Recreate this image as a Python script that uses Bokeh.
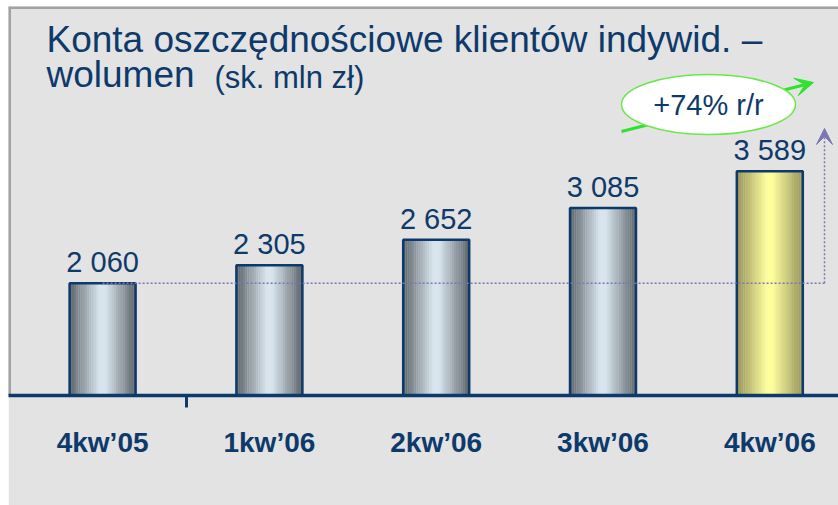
import numpy as np
from bokeh.plotting import figure
from bokeh.models import Range1d, FixedTicker, Arrow, VeeHead, ColumnDataSource
from bokeh.core.properties import value
from bokeh.embed import file_html
from bokeh.resources import INLINE

# ---- data ----
categories = ["4kw\u201905", "1kw\u201906", "2kw\u201906", "3kw\u201906", "4kw\u201906"]
volumes = [2060, 2305, 2652, 3085, 3589]
title_line1 = "Konta oszcz\u0119dno\u015bciowe klient\u00f3w indywid. \u2013"
title_line2 = "wolumen"
unit_label = "(sk. mln z\u0142)"

# ---- layout / style ----
W, H = 830, 499
FRAME_H = 389
PX_X = 166.8      # px per category step
PX_Y = 0.0732     # px per value unit
X_OFF = 94.1      # px from frame left to first category centre
Y_BASE = 525      # value at the baseline

NAVY = "#0d3a6b"
PURPLE = "#7b77b0"
GREEN = "#2fe22f"
FONT = value("Liberation Sans")

x_start = -X_OFF / PX_X
x_end = x_start + W / PX_X
y_start = Y_BASE
y_end = Y_BASE + FRAME_H / PX_Y


def dx(fx):
    return x_start + fx / PX_X


def dy(fy):
    return y_end - fy / PX_Y


idx = np.arange(len(categories))
BW = 66 / PX_X

p = figure(width=W, height=H, output_backend="svg", toolbar_location=None,
           x_range=Range1d(x_start, x_end), y_range=Range1d(y_start, y_end),
           y_axis_location=None, x_axis_location="below",
           min_border_left=0, min_border_right=0, min_border_top=0,
           min_border_bottom=H - FRAME_H, margin=(6, 0, 0, 8))
p.background_fill_color = "#e3e3e3"
p.border_fill_color = "#e3e3e3"
p.outline_line_color = None
p.grid.visible = False

# borders (left / top)
p.segment(x0=[x_start, x_start], y0=[y_start, y_end], x1=[x_start, x_end], y1=[y_end, y_end],
          line_color="#a2a2a2", line_width=5)

# green trend arrow (behind ellipse)
green_arrow = Arrow(x_start=dx(613), y_start=dy(125), x_end=dx(805), y_end=dy(76),
                    line_color=GREEN, line_width=3,
                    end=VeeHead(size=18, fill_color=GREEN, line_color=GREEN), level="underlay")
p.add_layout(green_arrow)

# gradient bars built from strips
N = 30
t = (np.arange(N) + 0.5) / N
prof = np.clip((1 - np.abs(2 * t - 1)) * 1.1, 0, 1)
steel_edge, steel_mid = np.array([92, 100, 105]), np.array([216, 229, 238])
gold_edge, gold_mid = np.array([150, 148, 90]), np.array([254, 254, 156])
hl = len(volumes) - 1
xs, tops, cols = [], [], []
for i, v in enumerate(volumes):
    e, m = (gold_edge, gold_mid) if i == hl else (steel_edge, steel_mid)
    for k in range(N):
        c = (e + (m - e) * prof[k]).astype(int)
        xs.append(idx[i] - BW / 2 + (k + 0.5) * BW / N)
        tops.append(v)
        cols.append("#%02x%02x%02x" % tuple(c))
strip_src = ColumnDataSource(dict(x=xs, top=tops, color=cols))
p.vbar(x="x", top="top", bottom=0, width=BW / N * 1.08, source=strip_src,
       fill_color="color", line_color=None)
p.vbar(x=idx, top=volumes, bottom=0, width=BW, fill_color=None,
       line_color=NAVY, line_width=2.5)

# dotted reference line + arrow
p.line(x=[idx[0], dx(816)], y=[volumes[0], volumes[0]], line_color=PURPLE,
       line_dash="2 2", line_width=1.5)
p.add_layout(Arrow(x_start=dx(816), y_start=volumes[0], x_end=dx(816), y_end=dy(122),
                   line_color=PURPLE, line_dash="2 2", line_width=1.5,
                   end=VeeHead(size=16, fill_color=PURPLE, line_color=PURPLE)))

# value labels
labels = [f"{v:,}".replace(",", " ") for v in volumes]
p.text(x=idx, y=[v + 21 / PX_Y for v in volumes], text=labels, text_align="center",
       text_baseline="middle", text_font=FONT, text_font_size="29px", text_color=NAVY)

# growth ellipse
growth = round((volumes[-1] / volumes[0] - 1) * 100)
p.ellipse(x=[dx(700)], y=[dy(98)], width=174, height=60, width_units="screen",
          height_units="screen", fill_color="white", line_color="#6ae84a", line_width=1.5)
p.text(x=[dx(700)], y=[dy(98)], text=[f"+{growth}% r/r"], text_align="center",
       text_baseline="middle", text_font=FONT, text_font_size="29px", text_color=NAVY)

# title
p.text(x=[dx(38)], y=[dy(33)], text=[title_line1], text_baseline="middle",
       text_font=FONT, text_font_size="37px", text_color=NAVY)
p.text(x=[dx(38)], y=[dy(68)], text=[title_line2], text_baseline="middle",
       text_font=FONT, text_font_size="37px", text_color=NAVY)
p.text(x=[dx(206)], y=[dy(71)], text=[unit_label], text_baseline="middle",
       text_font=FONT, text_font_size="31px", text_color=NAVY)

# x axis
xa = p.xaxis[0]
xa.ticker = FixedTicker(ticks=[int(i) for i in idx], minor_ticks=[float(idx[0]) + 0.5])
xa.major_label_overrides = {int(i): c for i, c in enumerate(categories)}
xa.axis_line_color = NAVY
xa.axis_line_width = 3.5
xa.major_tick_line_color = None
xa.major_tick_out = 0
xa.major_tick_in = 0
xa.minor_tick_line_color = NAVY
xa.minor_tick_line_width = 3
xa.minor_tick_out = 12
xa.minor_tick_in = 0
xa.major_label_standoff = 19
xa.major_label_text_font = "Liberation Sans"
xa.major_label_text_font_size = "28px"
xa.major_label_text_font_style = "bold"
xa.major_label_text_color = NAVY

open("out.html", "w").write(file_html(p, INLINE))
